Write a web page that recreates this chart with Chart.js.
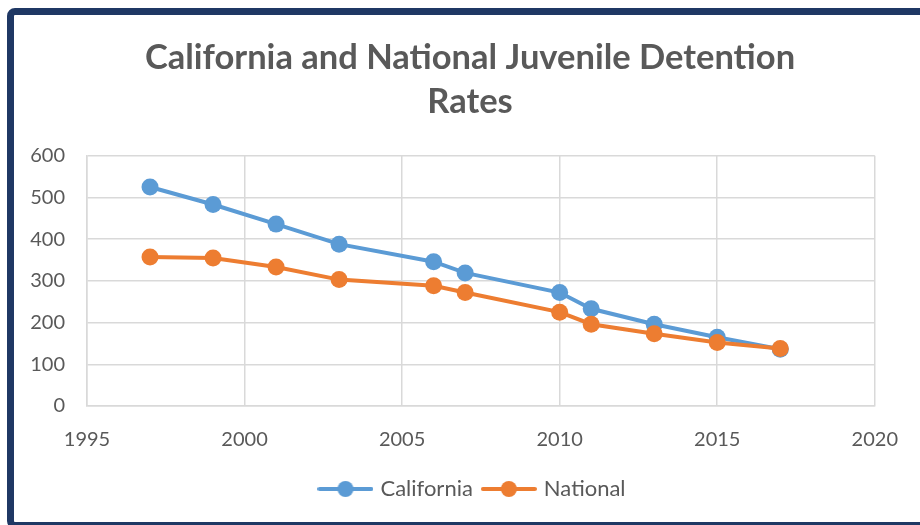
<!DOCTYPE html>
<html>
<head>
<meta charset="utf-8">
<script src="https://cdn.jsdelivr.net/npm/chart.js@4/dist/chart.umd.min.js"></script>
<style>
  html, body { margin: 0; padding: 0; background: #fff; overflow: hidden; }
  #wrap { position: absolute; left: 0; top: 0; width: 920px; height: 525px; }
  #frame { position: absolute; left: 7px; top: 8px; width: 940px; height: 521px; box-sizing: border-box;
           border: 7px solid #1F3864; border-radius: 8px; pointer-events: none; }
  canvas { position: absolute; left: 0; top: 0; }
</style>
</head>
<body>
<div id="wrap">
  <canvas id="c" width="920" height="525"></canvas>
  <div id="frame"></div>
</div>
<script>
const titleLines = ["California and National Juvenile Detention", "Rates"];
const years = [1997, 1999, 2001, 2003, 2006, 2007, 2010, 2011, 2013, 2015, 2017];
const california = [525, 483, 436, 388, 346, 319, 272, 233, 196, 165, 136];
const national = [357, 355, 333, 303, 288, 272, 225, 196, 173, 152, 138];
const seriesNames = ["California", "National"];
const seriesColors = ["#5B9BD5", "#ED7D31"];
const xMin = 1995, xMax = 2020, xStep = 5;
const yMin = 0, yMax = 600, yStep = 100;

const textColor = "#595959";
const gridColor = "#D9D9D9";
const fontFamily = "Lato, 'Open Sans', sans-serif";

function legendIcon(color) {
  const cv = document.createElement("canvas");
  cv.width = 56; cv.height = 20;
  const g = cv.getContext("2d");
  g.strokeStyle = color; g.lineWidth = 4; g.lineCap = "round";
  g.beginPath(); g.moveTo(2, 10); g.lineTo(54, 10); g.stroke();
  g.fillStyle = color;
  g.beginPath(); g.arc(28, 10, 8, 0, Math.PI * 2); g.fill();
  return cv;
}
const icons = seriesColors.map(legendIcon);

function toPoints(vals) { return years.map((y, i) => ({ x: y, y: vals[i] })); }

// Centre title and legend over the frame rather than the canvas box (matches the original layout)
const centreShift = {
  id: "centreShift",
  beforeDraw(chart) {
    if (chart.titleBlock) chart.titleBlock.left = 65;
    if (chart.legend) chart.legend.left = 72;
  }
};

new Chart(document.getElementById("c"), {
  type: "line",
  data: {
    datasets: [california, national].map((vals, i) => ({
      label: seriesNames[i],
      data: toPoints(vals),
      order: 1 - i,
      borderColor: seriesColors[i],
      backgroundColor: seriesColors[i],
      borderWidth: 4,
      pointRadius: 8.5,
      pointHoverRadius: 8.5,
      pointBorderWidth: 0,
      tension: 0,
      fill: false
    }))
  },
  plugins: [centreShift],
  options: {
    responsive: false,
    animation: false,
    layout: { padding: { left: 20, right: 45, top: 35, bottom: 15 } },
    plugins: {
      tooltip: { enabled: false },
      title: {
        display: true,
        text: titleLines,
        color: textColor,
        font: { family: fontFamily, size: 34.5, weight: "bold", lineHeight: 1.3 },
        padding: { top: 0, bottom: 31 }
      },
      legend: {
        position: "bottom",
        labels: {
          color: textColor,
          font: { family: fontFamily, size: 22 },
          usePointStyle: true,
          pointStyleWidth: 48,
          padding: 12,
          generateLabels: (chart) => chart.data.datasets.map((ds, i) => ({
            text: ds.label,
            fontColor: textColor,
            pointStyle: icons[i],
            datasetIndex: i,
            hidden: false,
            lineWidth: 0,
            strokeStyle: "transparent",
            fillStyle: "transparent"
          }))
        }
      }
    },
    scales: {
      x: {
        type: "linear",
        min: xMin, max: xMax,
        ticks: { stepSize: xStep, color: textColor, font: { family: fontFamily, size: 20 }, padding: 22,
                 callback: (v) => String(v) },
        grid: { color: gridColor, lineWidth: 1.5, drawTicks: false },
        border: { color: gridColor, width: 1.5 },
        afterFit: (s) => { s.height = 60; }
      },
      y: {
        min: yMin, max: yMax,
        ticks: { stepSize: yStep, color: textColor, font: { family: fontFamily, size: 20 }, padding: 22 },
        grid: { color: gridColor, lineWidth: 1.5, drawTicks: false },
        border: { color: gridColor, width: 1.5 },
        afterFit: (s) => { s.width = 67; }
      }
    }
  }
});
</script>
</body>
</html>
